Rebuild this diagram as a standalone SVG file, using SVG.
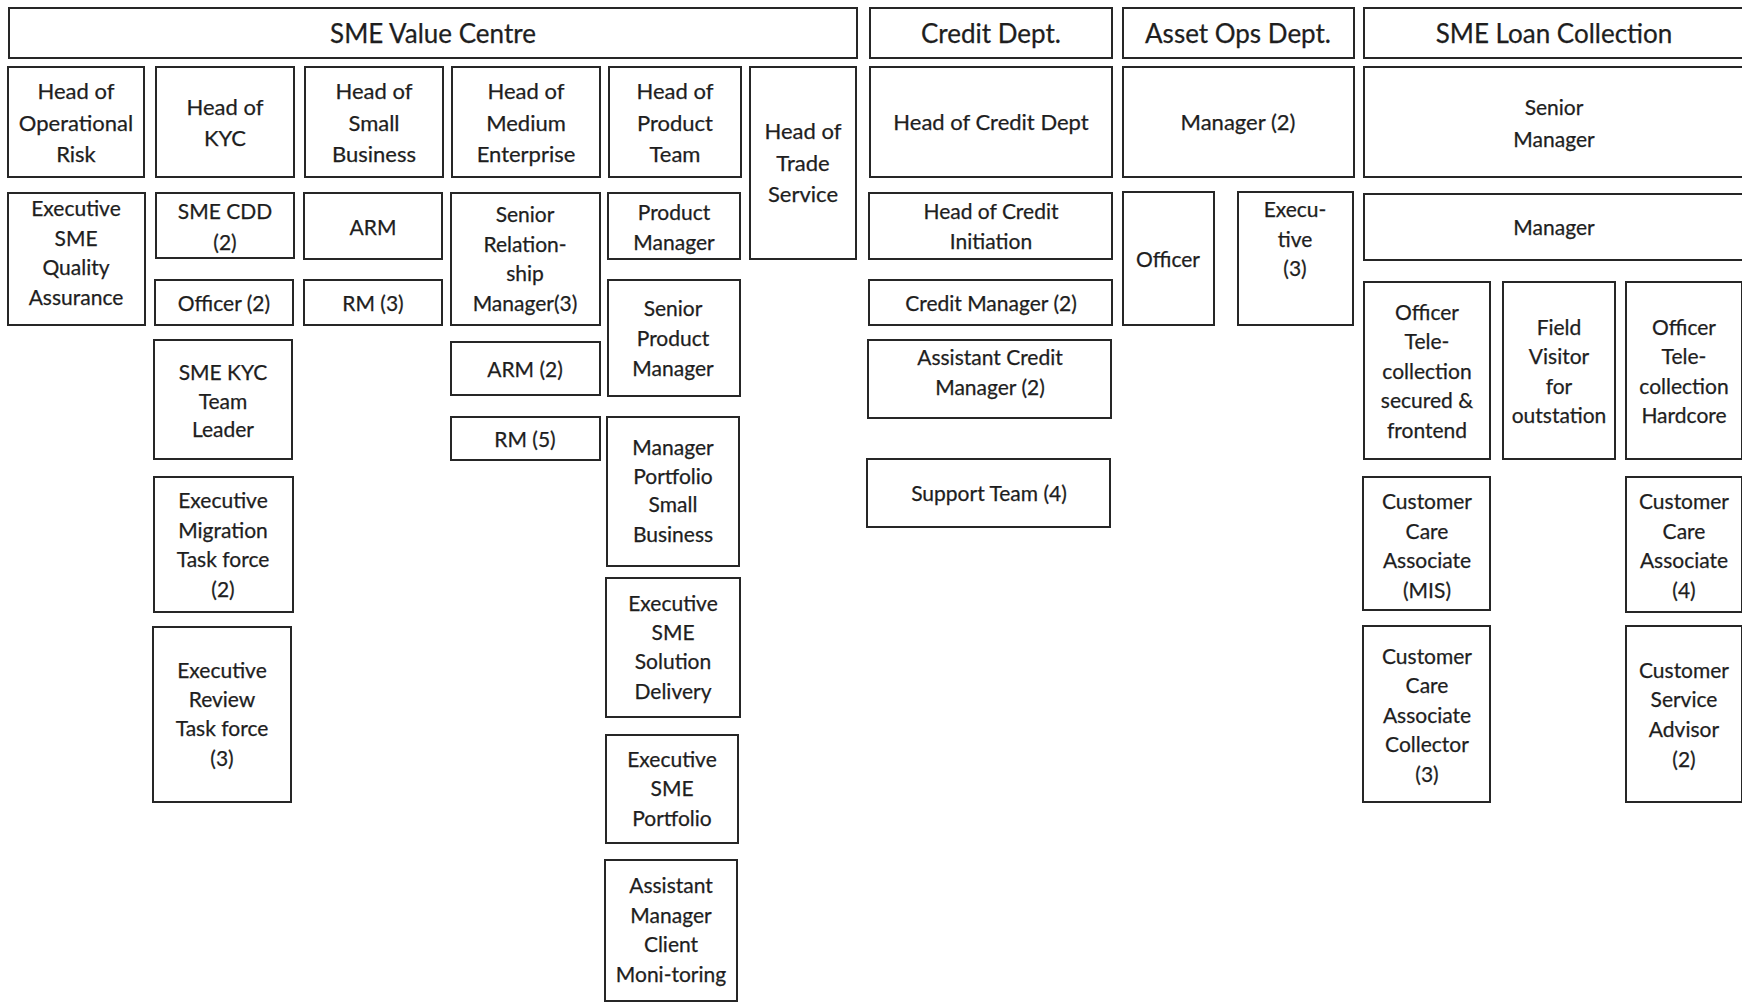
<svg xmlns="http://www.w3.org/2000/svg" width="1742" height="1003" viewBox="0 0 1742 1003">
<style>
.bg{fill:#fff}
.box{fill:#fff;stroke:#262626;stroke-width:2}
.t{font-family:Lato,"Liberation Sans",sans-serif;font-size:21px;fill:#1e1e1e;stroke:#1e1e1e;stroke-width:0.25;text-anchor:middle;dominant-baseline:central}
.h{font-size:26px}
.r1{font-size:22px}
</style>
<rect class="bg" x="0" y="0" width="1742" height="1003"/>
<g id="connectors"/>

<g id="sme_value_centre"><rect class="box" x="9" y="8" width="848" height="50"/><text class="t h" x="433" y="33">SME Value Centre</text></g>
<g id="credit_dept"><rect class="box" x="870" y="8" width="242" height="50"/><text class="t h" x="991" y="33">Credit Dept.</text></g>
<g id="asset_ops_dept"><rect class="box" x="1123" y="8" width="231" height="50"/><text class="t h" x="1238" y="33">Asset Ops Dept.</text></g>
<g id="sme_loan_collection"><rect class="box" x="1364" y="8" width="381" height="50"/><text class="t h" x="1554" y="33">SME Loan Collection</text></g>

<g id="head_operational_risk"><rect class="box" x="8" y="67" width="136" height="110"/><text class="t r1"><tspan x="76" y="90">Head of</tspan><tspan x="76" y="122">Operational</tspan><tspan x="76" y="153">Risk</tspan></text></g>
<g id="head_kyc"><rect class="box" x="156" y="67" width="138" height="110"/><text class="t r1"><tspan x="225" y="106">Head of</tspan><tspan x="225" y="137">KYC</tspan></text></g>
<g id="head_small_business"><rect class="box" x="305" y="67" width="138" height="110"/><text class="t r1"><tspan x="374" y="90">Head of</tspan><tspan x="374" y="122">Small</tspan><tspan x="374" y="153">Business</tspan></text></g>
<g id="head_medium_enterprise"><rect class="box" x="452" y="67" width="148" height="110"/><text class="t r1"><tspan x="526" y="90">Head of</tspan><tspan x="526" y="122">Medium</tspan><tspan x="526" y="153">Enterprise</tspan></text></g>
<g id="head_product_team"><rect class="box" x="609" y="67" width="132" height="110"/><text class="t r1"><tspan x="675" y="90">Head of</tspan><tspan x="675" y="122">Product</tspan><tspan x="675" y="153">Team</tspan></text></g>
<g id="head_trade_service"><rect class="box" x="750" y="67" width="106" height="192"/><text class="t r1"><tspan x="803" y="130">Head of</tspan><tspan x="803" y="162">Trade</tspan><tspan x="803" y="193">Service</tspan></text></g>
<g id="head_credit_dept"><rect class="box" x="870" y="67" width="242" height="110"/><text class="t r1" x="991" y="121">Head of Credit Dept</text></g>
<g id="asset_manager"><rect class="box" x="1123" y="67" width="231" height="110"/><text class="t r1" x="1238" y="121">Manager (2)</text></g>
<g id="senior_manager"><rect class="box" x="1364" y="67" width="381" height="110"/><text class="t"><tspan x="1554" y="106">Senior</tspan><tspan x="1554" y="138">Manager</tspan></text></g>

<g id="exec_sme_quality"><rect class="box" x="8" y="193" width="137" height="132"/><text class="t"><tspan x="76" y="207">Executive</tspan><tspan x="76" y="237">SME</tspan><tspan x="76" y="266">Quality</tspan><tspan x="76" y="296">Assurance</tspan></text></g>
<g id="sme_cdd"><rect class="box" x="156" y="193" width="138" height="65"/><text class="t"><tspan x="225" y="210">SME CDD</tspan><tspan x="225" y="241">(2)</tspan></text></g>
<g id="kyc_officer"><rect class="box" x="155" y="280" width="138" height="45"/><text class="t" x="224" y="302">Officer (2)</text></g>
<g id="arm"><rect class="box" x="304" y="193" width="138" height="66"/><text class="t" x="373" y="226">ARM</text></g>
<g id="rm3"><rect class="box" x="304" y="280" width="138" height="45"/><text class="t" x="373" y="302">RM (3)</text></g>
<g id="senior_rm"><rect class="box" x="451" y="193" width="149" height="132"/><text class="t"><tspan x="525" y="213">Senior</tspan><tspan x="525" y="243">Relation-</tspan><tspan x="525" y="272">ship</tspan><tspan x="525" y="302">Manager(3)</tspan></text></g>
<g id="product_manager"><rect class="box" x="608" y="193" width="132" height="66"/><text class="t"><tspan x="674" y="211">Product</tspan><tspan x="674" y="241">Manager</tspan></text></g>
<g id="head_credit_initiation"><rect class="box" x="869" y="193" width="243" height="66"/><text class="t"><tspan x="991" y="210">Head of Credit</tspan><tspan x="991" y="240">Initiation</tspan></text></g>
<g id="credit_manager"><rect class="box" x="869" y="280" width="243" height="45"/><text class="t" x="991" y="302">Credit Manager (2)</text></g>
<g id="asset_officer"><rect class="box" x="1123" y="192" width="91" height="133"/><text class="t" x="1168" y="258">Officer</text></g>
<g id="asset_executive"><rect class="box" x="1238" y="192" width="115" height="133"/><text class="t"><tspan x="1295" y="208">Execu-</tspan><tspan x="1295" y="238">tive</tspan><tspan x="1295" y="267">(3)</tspan></text></g>
<g id="lc_manager"><rect class="box" x="1364" y="194" width="381" height="66"/><text class="t" x="1554" y="226">Manager</text></g>

<g id="sme_kyc_team_leader"><rect class="box" x="154" y="340" width="138" height="119"/><text class="t"><tspan x="223" y="371">SME KYC</tspan><tspan x="223" y="400">Team</tspan><tspan x="223" y="428">Leader</tspan></text></g>
<g id="exec_migration"><rect class="box" x="154" y="477" width="139" height="135"/><text class="t"><tspan x="223" y="499">Executive</tspan><tspan x="223" y="529">Migration</tspan><tspan x="223" y="558">Task force</tspan><tspan x="223" y="588">(2)</tspan></text></g>
<g id="exec_review"><rect class="box" x="153" y="627" width="138" height="175"/><text class="t"><tspan x="222" y="669">Executive</tspan><tspan x="222" y="698">Review</tspan><tspan x="222" y="727">Task force</tspan><tspan x="222" y="757">(3)</tspan></text></g>
<g id="arm2"><rect class="box" x="451" y="342" width="149" height="53"/><text class="t" x="525" y="368">ARM (2)</text></g>
<g id="rm5"><rect class="box" x="451" y="417" width="149" height="43"/><text class="t" x="525" y="438">RM (5)</text></g>
<g id="senior_product_manager"><rect class="box" x="608" y="280" width="132" height="116"/><text class="t"><tspan x="673" y="307">Senior</tspan><tspan x="673" y="337">Product</tspan><tspan x="673" y="367">Manager</tspan></text></g>
<g id="manager_portfolio"><rect class="box" x="607" y="417" width="132" height="149"/><text class="t"><tspan x="673" y="446">Manager</tspan><tspan x="673" y="475">Portfolio</tspan><tspan x="673" y="503">Small</tspan><tspan x="673" y="533">Business</tspan></text></g>
<g id="exec_solution_delivery"><rect class="box" x="606" y="578" width="134" height="139"/><text class="t"><tspan x="673" y="602">Executive</tspan><tspan x="673" y="631">SME</tspan><tspan x="673" y="660">Solution</tspan><tspan x="673" y="690">Delivery</tspan></text></g>
<g id="exec_sme_portfolio"><rect class="box" x="606" y="735" width="132" height="108"/><text class="t"><tspan x="672" y="758">Executive</tspan><tspan x="672" y="787">SME</tspan><tspan x="672" y="817">Portfolio</tspan></text></g>
<g id="asst_manager_client"><rect class="box" x="605" y="860" width="132" height="141"/><text class="t"><tspan x="671" y="884">Assistant</tspan><tspan x="671" y="914">Manager</tspan><tspan x="671" y="943">Client</tspan><tspan x="671" y="973">Moni-toring</tspan></text></g>
<g id="asst_credit_manager"><rect class="box" x="868" y="340" width="243" height="78"/><text class="t"><tspan x="990" y="356">Assistant Credit</tspan><tspan x="990" y="386">Manager (2)</tspan></text></g>
<g id="support_team"><rect class="box" x="867" y="459" width="243" height="68"/><text class="t" x="989" y="492">Support Team (4)</text></g>

<g id="officer_tele_secured"><rect class="box" x="1364" y="282" width="126" height="177"/><text class="t"><tspan x="1427" y="311">Officer</tspan><tspan x="1427" y="340">Tele-</tspan><tspan x="1427" y="370">collection</tspan><tspan x="1427" y="399">secured &amp;</tspan><tspan x="1427" y="429">frontend</tspan></text></g>
<g id="field_visitor"><rect class="box" x="1503" y="282" width="112" height="177"/><text class="t"><tspan x="1559" y="326">Field</tspan><tspan x="1559" y="355">Visitor</tspan><tspan x="1559" y="385">for</tspan><tspan x="1559" y="414">outstation</tspan></text></g>
<g id="officer_tele_hardcore"><rect class="box" x="1626" y="282" width="116" height="177"/><text class="t"><tspan x="1684" y="326">Officer</tspan><tspan x="1684" y="355">Tele-</tspan><tspan x="1684" y="385">collection</tspan><tspan x="1684" y="414">Hardcore</tspan></text></g>
<g id="cca_mis"><rect class="box" x="1363" y="477" width="127" height="133"/><text class="t"><tspan x="1427" y="500">Customer</tspan><tspan x="1427" y="530">Care</tspan><tspan x="1427" y="559">Associate</tspan><tspan x="1427" y="589">(MIS)</tspan></text></g>
<g id="cca_4"><rect class="box" x="1626" y="477" width="116" height="135"/><text class="t"><tspan x="1684" y="500">Customer</tspan><tspan x="1684" y="530">Care</tspan><tspan x="1684" y="559">Associate</tspan><tspan x="1684" y="589">(4)</tspan></text></g>
<g id="cca_collector"><rect class="box" x="1363" y="626" width="127" height="176"/><text class="t"><tspan x="1427" y="655">Customer</tspan><tspan x="1427" y="684">Care</tspan><tspan x="1427" y="714">Associate</tspan><tspan x="1427" y="743">Collector</tspan><tspan x="1427" y="773">(3)</tspan></text></g>
<g id="customer_service_advisor"><rect class="box" x="1626" y="626" width="116" height="176"/><text class="t"><tspan x="1684" y="669">Customer</tspan><tspan x="1684" y="698">Service</tspan><tspan x="1684" y="728">Advisor</tspan><tspan x="1684" y="758">(2)</tspan></text></g>
</svg>
